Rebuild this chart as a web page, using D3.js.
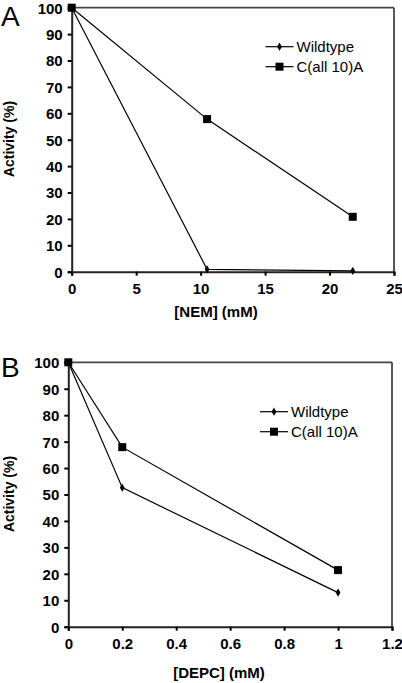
<!DOCTYPE html>
<html><head><meta charset="utf-8">
<script src="https://cdn.jsdelivr.net/npm/d3@7"></script>
<style>body{margin:0;background:#fff}svg{display:block}</style>
</head><body>
<script>
// Panel A data
const nemX = [0, 10.5, 21.8];
const nemWildtype = [100, 0.9, 0.3];
const nemCall10A = [100, 57.8, 20.8];
const nemXTicks = [0, 5, 10, 15, 20, 25];
// Panel B data
const depcX = [0, 0.2, 1];
const depcWildtype = [100, 52.6, 12.9];
const depcCall10A = [100, 67.9, 21.4];
const depcXTicks = [0, 0.2, 0.4, 0.6, 0.8, 1, 1.2];
const yTicks = [0,10,20,30,40,50,60,70,80,90,100];
const seriesNames = ["Wildtype", "C(all 10)A"];

const W = 402, H = 683;
const svg = d3.select("body").append("svg").attr("width", W).attr("height", H);
const FONT = "Liberation Sans, Arial, Helvetica, sans-serif";

function panel(cfg) {
  const g = svg.append("g");
  const x = d3.scaleLinear().domain(cfg.xDomain).range([cfg.left, cfg.right]);
  const y = d3.scaleLinear().domain([0, 100]).range([cfg.bottom, cfg.top]);

  // frame top and right
  g.append("line").attr("x1", cfg.left).attr("x2", cfg.right).attr("y1", cfg.top).attr("y2", cfg.top)
    .attr("stroke", "#444").attr("stroke-width", 1.8);
  g.append("line").attr("x1", cfg.right).attr("x2", cfg.right).attr("y1", cfg.top).attr("y2", cfg.bottom)
    .attr("stroke", "#444").attr("stroke-width", 1.8);

  // axes
  const xAxis = d3.axisBottom(x).tickValues(cfg.xTicks).tickSize(4).tickFormat(d3.format("~g"));
  const yAxis = d3.axisLeft(y).tickValues(yTicks).tickSize(4);
  const gx = g.append("g").attr("transform", `translate(0,${cfg.bottom})`).call(xAxis);
  const gy = g.append("g").attr("transform", `translate(${cfg.left},0)`).call(yAxis);
  [gx, gy].forEach(a => {
    a.select(".domain").attr("stroke", "#222").attr("stroke-width", 2);
    a.selectAll(".tick line").attr("stroke", "#000").attr("stroke-width", 2);
    a.selectAll("text").attr("font-family", FONT).attr("font-weight", "bold")
      .attr("font-size", 15).attr("fill", "#000");
  });
  gx.selectAll("text").attr("dy", null).attr("y", 22);
  gy.selectAll("text").attr("x", -9).attr("dy", "0.36em");

  const line = d3.line().x(d => x(d[0])).y(d => y(d[1]));
  const wt = cfg.xs.map((v, i) => [v, cfg.wt[i]]);
  const ca = cfg.xs.map((v, i) => [v, cfg.ca[i]]);
  g.append("path").attr("d", line(wt)).attr("fill", "none").attr("stroke", "#000").attr("stroke-width", 1.2);
  g.append("path").attr("d", line(ca)).attr("fill", "none").attr("stroke", "#000").attr("stroke-width", 1.2);
  const diamond = d3.symbol().type(d3.symbolDiamond).size(20);
  g.selectAll(".wt").data(wt).enter().append("path").attr("d", diamond)
    .attr("transform", d => `translate(${x(d[0])},${y(d[1])})`).attr("fill", "#000");
  g.selectAll(".ca").data(ca).enter().append("rect")
    .attr("x", d => x(d[0]) - 4).attr("y", d => y(d[1]) - 4).attr("width", 8).attr("height", 8).attr("fill", "#000");

  // legend
  seriesNames.forEach((name, i) => {
    const ly = cfg.legY + i * 20;
    g.append("line").attr("x1", cfg.legX).attr("x2", cfg.legX + 28).attr("y1", ly).attr("y2", ly)
      .attr("stroke", "#000").attr("stroke-width", 1.2);
    if (i === 0) g.append("path").attr("d", diamond).attr("transform", `translate(${cfg.legX + 14},${ly})`).attr("fill", "#000");
    else g.append("rect").attr("x", cfg.legX + 10).attr("y", ly - 4).attr("width", 8).attr("height", 8).attr("fill", "#000");
    g.append("text").attr("x", cfg.legX + 31).attr("y", ly + 5).text(name)
      .attr("font-family", FONT).attr("font-size", 15).attr("fill", "#000");
  });

  // titles
  g.append("text").attr("x", cfg.xtX).attr("y", cfg.xtY).attr("text-anchor", "middle")
    .attr("font-family", FONT).attr("font-weight", "bold").attr("font-size", 15).text(cfg.xTitle);
  g.append("text").attr("transform", `translate(14,${cfg.ytY}) rotate(-90)`).attr("text-anchor", "middle")
    .attr("font-family", FONT).attr("font-weight", "bold").attr("font-size", 14).text("Activity (%)");
  g.append("text").attr("x", 1).attr("y", cfg.lblY).attr("font-family", FONT).attr("font-size", 28).text(cfg.label);
}

panel({left: 71.7, right: 394, top: 7.7, bottom: 271.7, xDomain: [0, 25], xTicks: nemXTicks,
  xs: nemX, wt: nemWildtype, ca: nemCall10A, legX: 265.5, legY: 46.7,
  xTitle: "[NEM] (mM)", xtX: 216, xtY: 317, ytY: 139, label: "A", lblY: 26});
panel({left: 68.3, right: 392, top: 362.3, bottom: 626.7, xDomain: [0, 1.2], xTicks: depcXTicks,
  xs: depcX, wt: depcWildtype, ca: depcCall10A, legX: 260, legY: 411.7,
  xTitle: "[DEPC] (mM)", xtX: 219, xtY: 678, ytY: 494, label: "B", lblY: 377});
</script>
</body></html>
